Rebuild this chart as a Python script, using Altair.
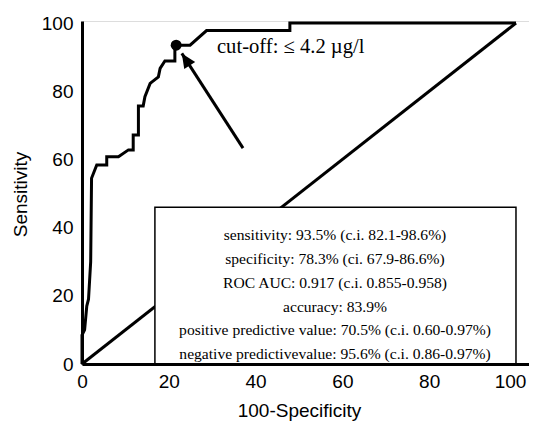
import altair as alt
import pandas as pd

# ROC curve (100-specificity vs sensitivity)
roc_fpr = [0, 0, 0.6, 1.1, 1.5, 2.0, 2.2, 3.4, 5.7, 5.7, 8.4, 10.7, 11.8, 11.8,
           13.0, 13.0, 14.1, 14.5, 15.7, 17.6, 18.0, 19.1, 21.4, 21.4, 21.7,
           23.7, 24.9, 28.7, 47.9, 47.9, 100]
roc_tpr = [0, 8.5, 10.0, 17.0, 19.0, 30.0, 54.5, 58.4, 58.4, 60.8, 60.8, 62.8,
           62.8, 67.2, 67.2, 75.7, 75.7, 78.4, 82.3, 84.2, 86.7, 88.9, 88.9,
           93.1, 93.5, 93.5, 93.5, 97.8, 97.8, 100, 100]

diag_x = [0, 100]
diag_y = [0, 100]

cutoff_fpr = [21.7]
cutoff_tpr = [93.5]
cutoff_label = "cut-off: \u2264 4.2 \u00b5g/l"

axis_ticks = [0, 20, 40, 60, 80, 100]

stats_lines = [
    "sensitivity: 93.5% (c.i. 82.1-98.6%)",
    "specificity: 78.3% (ci. 67.9-86.6%)",
    "ROC AUC: 0.917 (c.i. 0.855-0.958)",
    "accuracy: 83.9%",
    "positive predictive value: 70.5% (c.i. 0.60-0.97%)",
    "negative predictivevalue: 95.6% (c.i. 0.86-0.97%)",
]

# annotation geometry (data units)
box_x = [16.8, 100.0]
box_y = [0.0, 46.0]
arrow_x = [37.1, 23.0]
arrow_y = [63.3, 91.1]
stats_pos = (58.3, 37.8)
cutoff_pos = (31.1, 93.0)

xs = alt.Scale(domain=[0, 103.0], nice=False, zero=False)
ys = alt.Scale(domain=[0, 100.6], nice=False, zero=False)

lab_font = "Liberation Sans"
serif = "Liberation Serif"

x_axis = alt.Axis(values=axis_ticks, ticks=False, grid=False, domainColor="black",
                  domainWidth=3, labelFont=lab_font, labelFontSize=19, labelColor="black",
                  labelPadding=8, labelFlush=False,
                  labelOffset={"condition": {"test": "datum.value === 100", "value": -6},
                               "value": 0},
                  title="100-Specificity", titleFont=lab_font,
                  titleFontSize=19, titleFontWeight="normal", titleColor="black",
                  titleX=217, titleY=46, titleBaseline="middle", titleAlign="center",
                  zindex=1)
y_axis = alt.Axis(values=axis_ticks, ticks=False, grid=False, domainColor="black",
                  domainWidth=3, labelFont=lab_font, labelFontSize=19, labelColor="black",
                  labelPadding=9, labelFlush=False, title="Sensitivity", titleFont=lab_font,
                  titleFontSize=19, titleFontWeight="normal", titleColor="black",
                  titleX=-62, titleY=173, titleAngle=270, titleBaseline="middle",
                  titleAlign="center", zindex=1)

roc_df = pd.DataFrame({"fpr": roc_fpr, "tpr": roc_tpr, "order": list(range(len(roc_fpr)))})
diag_df = pd.DataFrame({"fpr": diag_x, "tpr": diag_y})
box_df = pd.DataFrame({"fpr": [box_x[0]], "x2": [box_x[1]], "tpr": [box_y[0]], "y2": [box_y[1]]})
dot_df = pd.DataFrame({"fpr": cutoff_fpr, "tpr": cutoff_tpr})
arrow_df = pd.DataFrame({"fpr": arrow_x, "tpr": arrow_y, "order": [0, 1]})
head_df = pd.DataFrame({"fpr": [arrow_x[1]], "tpr": [arrow_y[1]]})
stats_df = pd.DataFrame({"fpr": [stats_pos[0]], "tpr": [stats_pos[1]]})
cut_df = pd.DataFrame({"fpr": [cutoff_pos[0]], "tpr": [cutoff_pos[1]], "label": [cutoff_label]})

X = alt.X("fpr:Q", scale=xs, axis=x_axis)
Y = alt.Y("tpr:Q", scale=ys, axis=y_axis)

diag = alt.Chart(diag_df).mark_line(color="black", strokeWidth=3).encode(x=X, y=Y)

box = alt.Chart(box_df).mark_rect(fill="white", stroke="black", strokeWidth=1.5).encode(
    x=X, x2="x2:Q", y=Y, y2="y2:Q",
)

curve = alt.Chart(roc_df).mark_line(color="black", strokeWidth=3, strokeJoin="miter").encode(
    x=X, y=Y, order="order:Q",
)

dot = alt.Chart(dot_df).mark_point(filled=True, color="black", size=120, opacity=1).encode(
    x=X, y=Y,
)

shaft = alt.Chart(arrow_df).mark_line(color="black", strokeWidth=3).encode(
    x=X, y=Y, order="order:Q",
)

head = alt.Chart(head_df).mark_point(
    shape="M0,0 L-0.45,1 L0.45,1 Z", filled=True, color="black", size=840,
    angle=327, opacity=1, strokeWidth=0,
).encode(x=X, y=Y)

stats = alt.Chart(stats_df).mark_text(
    text=stats_lines, font=serif, fontSize=15.6, lineHeight=23.8,
    align="center", baseline="middle", color="black",
).encode(x=X, y=Y)

cut = alt.Chart(cut_df).mark_text(
    font=serif, fontSize=20.6, align="left", baseline="middle", color="black",
).encode(x=X, y=Y, text="label:N")

chart = alt.layer(diag, box, curve, dot, shaft, head, stats, cut).properties(
    width=447, height=343,
    autosize=alt.AutoSizeParams(type="none"),
    padding={"left": 74, "top": 13, "right": 0, "bottom": 58},
).configure_view(stroke=None).configure(background="white")

chart.save("out.html", embed_options={"renderer": "svg", "actions": False})
